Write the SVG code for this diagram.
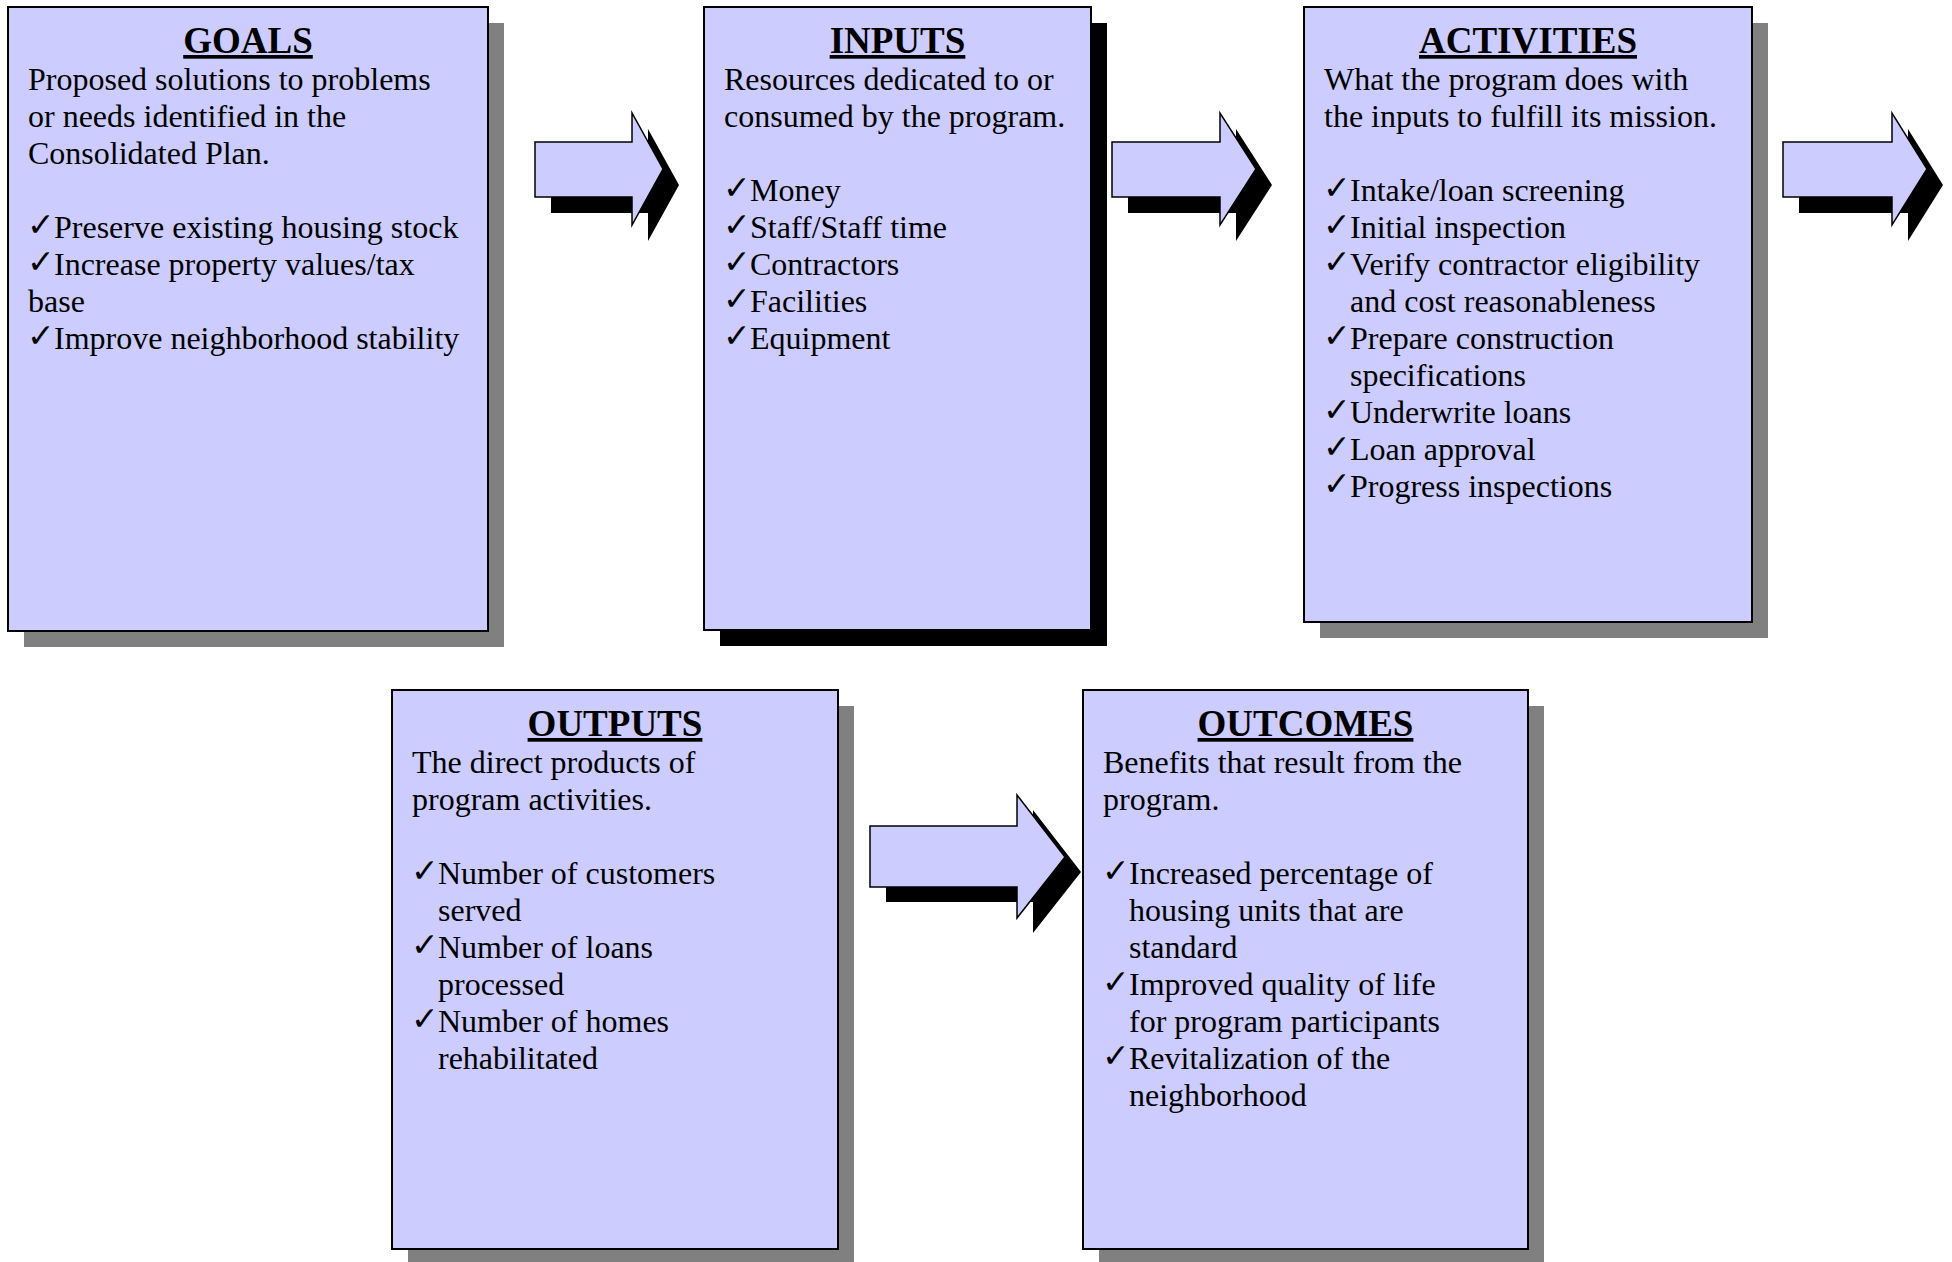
<svg xmlns="http://www.w3.org/2000/svg" width="1952" height="1262" viewBox="0 0 1952 1262">
<style>
.box{fill:#CCCCFF;stroke:#000;stroke-width:2}
.sg{fill:#808080}
.sb{fill:#000}
.arr{fill:#CCCCFF;stroke:#000;stroke-width:1.5;stroke-linejoin:miter}
.ash{fill:#000}
text{font-family:"Liberation Serif","Times New Roman",serif;font-size:32px;fill:#000}
.t{font-size:37px;font-weight:bold;text-anchor:middle;text-decoration:underline}
.ck{font-family:"DejaVu Sans",sans-serif;font-size:33px;font-weight:bold}
</style>
<rect width="1952" height="1262" fill="#fff"/>
<g id="connectors">
<polygon class="ash" transform="translate(16,16)" points="535,142 632,142 632,113 663,169 632,225 632,197 535,197"/>
<polygon class="arr" points="535,142 632,142 632,113 663,169 632,225 632,197 535,197"/>
<polygon class="ash" transform="translate(16,16)" points="1112,142 1220,142 1220,113 1256,169 1220,225 1220,197 1112,197"/>
<polygon class="arr" points="1112,142 1220,142 1220,113 1256,169 1220,225 1220,197 1112,197"/>
<polygon class="ash" transform="translate(16,16)" points="1783,142 1892,142 1892,113 1927,169 1892,225 1892,197 1783,197"/>
<polygon class="arr" points="1783,142 1892,142 1892,113 1927,169 1892,225 1892,197 1783,197"/>
<polygon class="ash" transform="translate(16,15)" points="870,826 1017,826 1017,795 1065,857 1017,918 1017,887 870,887"/>
<polygon class="arr" points="870,826 1017,826 1017,795 1065,857 1017,918 1017,887 870,887"/>
</g>
<g id="goals">
<rect class="sg" x="24" y="23" width="480" height="624"/>
<rect class="box" x="8" y="7" width="480" height="624"/>
<text class="t" x="248" y="53">GOALS</text>
<text x="28" y="90">Proposed solutions to problems</text>
<text x="28" y="127">or needs identified in the</text>
<text x="28" y="164">Consolidated Plan.</text>
<text class="ck" x="27" y="236">✓</text><text x="54" y="238">Preserve existing housing stock</text>
<text class="ck" x="27" y="273">✓</text><text x="54" y="275">Increase property values/tax</text>
<text x="28" y="312">base</text>
<text class="ck" x="27" y="347">✓</text><text x="54" y="349">Improve neighborhood stability</text>
</g>
<g id="inputs">
<rect class="sb" x="720" y="23" width="387" height="623"/>
<rect class="box" x="704" y="7" width="387" height="623"/>
<text class="t" x="897.5" y="53">INPUTS</text>
<text x="724" y="90">Resources dedicated to or</text>
<text x="724" y="127">consumed by the program.</text>
<text class="ck" x="723" y="199">✓</text><text x="750" y="201">Money</text>
<text class="ck" x="723" y="236">✓</text><text x="750" y="238">Staff/Staff time</text>
<text class="ck" x="723" y="273">✓</text><text x="750" y="275">Contractors</text>
<text class="ck" x="723" y="310">✓</text><text x="750" y="312">Facilities</text>
<text class="ck" x="723" y="347">✓</text><text x="750" y="349">Equipment</text>
</g>
<g id="activities">
<rect class="sg" x="1320" y="23" width="448" height="615"/>
<rect class="box" x="1304" y="7" width="448" height="615"/>
<text class="t" x="1528" y="53">ACTIVITIES</text>
<text x="1324" y="90">What the program does with</text>
<text x="1324" y="127">the inputs to fulfill its mission.</text>
<text class="ck" x="1323" y="199">✓</text><text x="1350" y="201">Intake/loan screening</text>
<text class="ck" x="1323" y="236">✓</text><text x="1350" y="238">Initial inspection</text>
<text class="ck" x="1323" y="273">✓</text><text x="1350" y="275">Verify contractor eligibility</text>
<text x="1350" y="312">and cost reasonableness</text>
<text class="ck" x="1323" y="347">✓</text><text x="1350" y="349">Prepare construction</text>
<text x="1350" y="386">specifications</text>
<text class="ck" x="1323" y="421">✓</text><text x="1350" y="423">Underwrite loans</text>
<text class="ck" x="1323" y="458">✓</text><text x="1350" y="460">Loan approval</text>
<text class="ck" x="1323" y="495">✓</text><text x="1350" y="497">Progress inspections</text>
</g>
<g id="outputs">
<rect class="sg" x="408" y="706" width="446" height="559"/>
<rect class="box" x="392" y="690" width="446" height="559"/>
<text class="t" x="615" y="736">OUTPUTS</text>
<text x="412" y="773">The direct products of</text>
<text x="412" y="810">program activities.</text>
<text class="ck" x="411" y="882">✓</text><text x="438" y="884">Number of customers</text>
<text x="438" y="921">served</text>
<text class="ck" x="411" y="956">✓</text><text x="438" y="958">Number of loans</text>
<text x="438" y="995">processed</text>
<text class="ck" x="411" y="1030">✓</text><text x="438" y="1032">Number of homes</text>
<text x="438" y="1069">rehabilitated</text>
</g>
<g id="outcomes">
<rect class="sg" x="1099" y="706" width="445" height="559"/>
<rect class="box" x="1083" y="690" width="445" height="559"/>
<text class="t" x="1305.5" y="736">OUTCOMES</text>
<text x="1103" y="773">Benefits that result from the</text>
<text x="1103" y="810">program.</text>
<text class="ck" x="1102" y="882">✓</text><text x="1129" y="884">Increased percentage of</text>
<text x="1129" y="921">housing units that are</text>
<text x="1129" y="958">standard</text>
<text class="ck" x="1102" y="993">✓</text><text x="1129" y="995">Improved quality of life</text>
<text x="1129" y="1032">for program participants</text>
<text class="ck" x="1102" y="1067">✓</text><text x="1129" y="1069">Revitalization of the</text>
<text x="1129" y="1106">neighborhood</text>
</g>
</svg>
